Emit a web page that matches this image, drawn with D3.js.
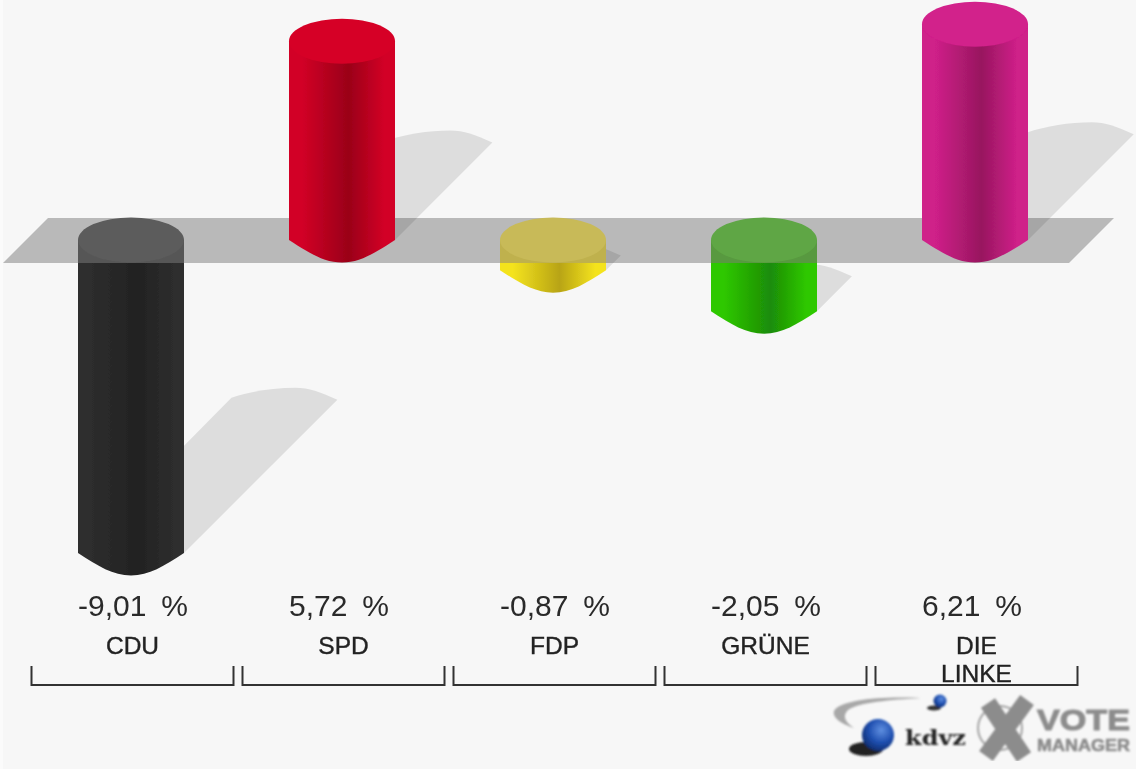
<!DOCTYPE html>
<html><head><meta charset="utf-8">
<script src="https://cdn.jsdelivr.net/npm/d3@7/dist/d3.min.js"></script>
<style>html,body{margin:0;padding:0;background:#fbfbfb;overflow:hidden}svg{display:block}text{font-family:"Liberation Sans",Arial,sans-serif}</style>
</head><body><script>
const categories = ["CDU","SPD","FDP","GRÜNE","DIE LINKE"];
const values = [-9.01,5.72,-0.87,-2.05,6.21];
const valueLabels = ["-9,01 %","5,72 %","-0,87 %","-2,05 %","6,21 %"];
const edgeColors = ["#2d2d2d","#d20026","#f4e31e","#2ec800","#cf2089"];
const darkColors = ["#222222","#9a0018","#b8a414","#1c8c08","#98165f"];
const capColors = ["#5b5b5b","#d60027","#c8ba58","#5ea645","#d2208b"];
const overlayColors = ["#575757","#d60027","#bfb14e","#58993f","#d2208b"];

const W=1136,H=769;
const x=d3.scaleBand().domain(categories).range([25.5,1080.5]).paddingInner(1-106/211).paddingOuter((1-106/211)/2);
const k=34.75;
const y=d3.scaleLinear().domain([-9.01,6.21]).range([240+9.01*k,240-6.21*k]);
const bw=x.bandwidth(), ry=22.5, y0=y(0), planeTop=y0-22, planeBot=y0+23;

const svg=d3.select("body").append("svg").attr("width",W).attr("height",H);
const defs=svg.append("defs");
defs.append("filter").attr("id","soft").attr("x",0).attr("y",0).attr("width","100%").attr("height","100%")
  .append("feGaussianBlur").attr("stdDeviation",0.6);
defs.append("filter").attr("id","softer").attr("x","-5%").attr("y","-5%").attr("width","110%").attr("height","110%")
  .append("feGaussianBlur").attr("stdDeviation",0.8);
defs.append("clipPath").attr("id","planeClip").append("rect").attr("x",0).attr("y",planeTop).attr("width",W).attr("height",planeBot-planeTop);
categories.forEach((c,i)=>{
  const g=defs.append("linearGradient").attr("id","g"+i).attr("x1",0).attr("x2",1).attr("y1",0).attr("y2",0);
  [[0,edgeColors[i]],[.12,edgeColors[i]],[.56,darkColors[i]],[.9,edgeColors[i]],[1,edgeColors[i]]]
    .forEach(s=>g.append("stop").attr("offset",s[0]).attr("stop-color",s[1]));
});
const root=svg.append("g").attr("filter","url(#soft)");
root.append("rect").attr("x",3).attr("y",0).attr("width",W-3).attr("height",H).attr("fill","#f7f7f7");

// plane
root.append("path").attr("d",`M3,${planeBot}L48,${planeTop}L1114,${planeTop}L1069,${planeBot}Z`).attr("fill","#b9b9b9");

const topOf=v=>v>0?y(v):y0, baseOf=v=>v>0?y0:y(v);
const len=v=>Math.abs(y(v)-y0);
function barPath(v,xl){
  const t=topOf(v),b=baseOf(v);
  return `M${xl},${t}L${xl},${b}C${xl+20},${b+13} ${xl+35},${b+ry} ${xl+bw/2},${b+ry}`+
         `C${xl+bw-35},${b+ry} ${xl+bw-20},${b+13} ${xl+bw},${b}L${xl+bw},${t}Z`;
}
// shadows
root.selectAll("path.shadow").data(values).join("path").attr("class","shadow")
 .attr("fill","#000").attr("fill-opacity",0.1)
 .attr("d",(v,i)=>{
   const xl=x(categories[i]),b=baseOf(v),L=len(v)*0.49;
   return `M${xl+bw},${b}L${xl+bw+L},${b-L}c-18,-8 -28,-12 -42,-12c-23,0 -46,4 -64,10L${xl},${b}Z`;
 });
// bars
const bars=root.selectAll("g.bar").data(values).join("g").attr("class","bar");
bars.append("path").attr("d",(v,i)=>barPath(v,x(categories[i]))).attr("fill",(v,i)=>`url(#g${i})`);
bars.filter(v=>v<0).append("path").attr("d",function(v){const i=values.indexOf(v);return barPath(v,x(categories[i]));})
 .attr("clip-path","url(#planeClip)").attr("fill",v=>overlayColors[values.indexOf(v)]);
bars.append("ellipse").attr("cx",(v,i)=>x(categories[i])+bw/2).attr("cy",v=>topOf(v)).attr("rx",bw/2).attr("ry",ry)
 .attr("fill",(v,i)=>capColors[i]);

// value labels
root.selectAll("text.val").data(valueLabels).join("text").attr("class","val")
 .attr("x",(d,i)=>x(categories[i])).attr("y",616)
 .attr("font-size",30).attr("word-spacing","6.5px").attr("fill","#2a2a2a").text(d=>d);
// category labels
categories.forEach((c,i)=>{
  const words=c.split(" ");
  words.forEach((w,j)=>root.append("text").attr("x",x(c)+bw/2+1.5).attr("y",654+j*28).attr("text-anchor","middle")
    .attr("font-size",24.5).attr("fill","#222").attr("stroke","#222").attr("stroke-width",0.4).text(w));
  const cx=x(c)+bw/2+1.5;
  root.append("path").attr("d",`M${cx-101},666V685H${cx+101}V666`).attr("fill","none").attr("stroke","#333").attr("stroke-width",2);
});

// logo
const logo=root.append("g").attr("filter","url(#softer)");
logo.append("path").attr("d","M921,698C880,696 840,700 834,711C832,718 842,724 854,728C845,722 842,716 848,710C860,702 890,700 921,698Z").attr("fill","#a8a8a8");
logo.append("ellipse").attr("cx",934).attr("cy",708).attr("rx",7).attr("ry",2.5).attr("fill","#333");
const lg=defs.append("radialGradient").attr("id","ball").attr("cx",.6).attr("cy",.35).attr("r",.7);
[[0,"#5f8fe0"],[.55,"#1f4fb0"],[1,"#0c2a6a"]].forEach(s=>lg.append("stop").attr("offset",s[0]).attr("stop-color",s[1]));
logo.append("circle").attr("cx",940).attr("cy",701).attr("r",6.5).attr("fill","url(#ball)");
logo.append("ellipse").attr("cx",866).attr("cy",749).attr("rx",17).attr("ry",7).attr("fill","#222");
logo.append("circle").attr("cx",878).attr("cy",735).attr("r",16).attr("fill","url(#ball)");
logo.append("text").attr("x",905).attr("y",745).attr("font-size",20).attr("font-weight","bold").attr("textLength",61).attr("lengthAdjust","spacingAndGlyphs").style("font-family","'DejaVu Serif',serif").attr("fill","#222").text("kdvz");
logo.append("circle").attr("cx",1000).attr("cy",728).attr("r",22).attr("fill","none").attr("stroke","#a5a5a5").attr("stroke-width",2);
logo.append("path").attr("d","M1027,700L986,756M988,703L1024,757").attr("fill","none").attr("stroke","#8c8c8c").attr("stroke-width",17);
logo.append("text").attr("x",1037).attr("y",730).attr("font-size",30).attr("font-weight","bold").attr("textLength",93).attr("lengthAdjust","spacingAndGlyphs").attr("fill","#8c8c8c").attr("stroke","#8c8c8c").attr("stroke-width",1).text("VOTE");
logo.append("text").attr("x",1037).attr("y",751).attr("font-size",16.5).attr("font-weight","bold").attr("textLength",93).attr("lengthAdjust","spacingAndGlyphs").attr("fill","#8c8c8c").attr("stroke","#8c8c8c").attr("stroke-width",0.6).text("MANAGER");
</script></body></html>
